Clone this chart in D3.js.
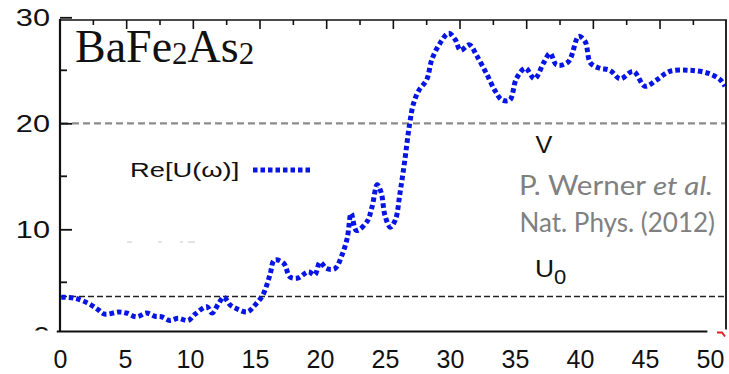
<!DOCTYPE html>
<html>
<head>
<meta charset="utf-8">
<script src="https://cdn.jsdelivr.net/npm/d3@7"></script>
<style>
  body { margin: 0; background: #fff; }
  svg { display: block; }
</style>
</head>
<body>
<svg class="chartSVG" width="729" height="374"></svg>
<script>
// Re[U(w)] (omega in eV, U in eV)
const omega = [0.1, 1.15, 2.2, 2.95, 3.45, 4.5, 5.1, 5.9, 6.65, 7.3, 7.8, 8.45, 9.1, 9.85, 10.4, 11.3, 11.7, 12.2, 12.6, 13.1, 13.7, 14.4, 15.0, 15.6, 16.15, 16.5, 17.2, 17.7, 18.3, 19.1, 19.6, 20.0, 20.5, 21.15, 21.7, 22.1, 22.4, 22.8, 23.6, 24.0, 24.4, 24.7, 25.0, 25.4, 25.8, 26.15, 26.5, 26.9, 27.2, 27.6, 28.2, 28.6, 29.2, 29.9, 30.4, 30.8, 31.5, 32.05, 32.8, 33.5, 34.0, 34.6, 35.1, 35.8, 36.5, 37.2, 37.7, 38.2, 39.1, 39.9, 40.4, 40.8, 41.5, 42.3, 43.1, 44.1, 45.0, 45.9, 46.9, 48.5, 49.9, 50.8, 51.15]
const reU = [3.6, 3.5, 3.0, 2.4, 2.0, 2.2, 2.1, 1.75, 2.1, 1.8, 1.75, 1.4, 1.6, 1.4, 2.0, 2.7, 2.1, 3.0, 3.6, 2.85, 2.45, 2.2, 2.85, 3.8, 5.7, 7.1, 6.8, 5.5, 5.4, 6.0, 5.7, 6.9, 6.3, 6.3, 7.6, 9.2, 11.5, 9.9, 10.7, 12.1, 14.2, 13.5, 11.3, 10.2, 10.9, 13.4, 16.3, 20.0, 21.9, 23.1, 24.1, 26.0, 27.5, 28.5, 27.9, 26.9, 27.4, 26.4, 24.7, 23.0, 22.2, 22.2, 24.2, 25.2, 24.2, 25.7, 26.6, 25.5, 25.8, 28.2, 27.7, 25.7, 25.2, 25.0, 24.2, 24.9, 23.5, 24.1, 24.9, 25.0, 24.7, 24.1, 23.5]

const xTicks = [0, 5, 10, 15, 20, 25, 30, 35, 40, 45, 50]
const yTicks = [0, 10, 20, 30]
const yMinorTicks = [5, 15, 25]
const refLines = [
  { name: "V", value: 20 },
  { name: "U0", value: 3.65 }
]
const material = ["Ba", "Fe", "2", "As", "2"]
const legendLabel = "Re[U(\u03c9)]"
const creditLines = ["P. Werner ", "Nat. Phys. (2012)"]

drawChart()

function drawChart() {
  const svg = d3.select(".chartSVG")
  const blue = "#0614e4"

  const x = d3.scaleLinear().domain([0, 50]).range([60, 710])
  const y = d3.scaleLinear().domain([0, 30]).range([335.3, 17.3])
  // the frame's own top ticks run on a 0..20 scale
  const xTop = d3.scaleLinear().domain([0, 20]).range([60, 726.7])

  const left = 60, right = 726, top = 20, bottom = 331.5

  // reference lines V and U0
  svg.append("g").selectAll("line")
    .data(refLines)
    .join("line")
    .attr("x1", left + 1)
    .attr("x2", right)
    .attr("y1", d => y(d.value))
    .attr("y2", d => y(d.value))
    .attr("stroke", d => d.name == "V" ? "#8c8c8c" : "#222")
    .attr("stroke-width", d => d.name == "V" ? 2.2 : 1.5)
    .attr("stroke-dasharray", d => d.name == "V" ? "7,4" : "6,3")

  // curve
  const line = d3.line()
    .x((d, i) => x(omega[i]))
    .y(d => y(d))
    .curve(d3.curveCatmullRom)

  svg.append("defs").append("clipPath").attr("id", "plotClip")
    .append("rect").attr("x", left).attr("y", top).attr("width", right - left).attr("height", bottom - top)

  svg.append("path")
    .datum(reU)
    .attr("clip-path", "url(#plotClip)")
    .attr("d", line)
    .attr("fill", "none")
    .attr("stroke", blue)
    .attr("stroke-width", 5)
    .attr("stroke-dasharray", "4.5,3")

  // frame
  const frame = svg.append("g").attr("stroke", "#111").attr("fill", "none")
  frame.append("line").attr("x1", left).attr("x2", left).attr("y1", top - 1).attr("y2", bottom).attr("stroke-width", 2.2)
  frame.append("line").attr("x1", left).attr("x2", right + 1).attr("y1", top).attr("y2", top).attr("stroke-width", 1.6)
  frame.append("line").attr("x1", right).attr("x2", right).attr("y1", top).attr("y2", bottom - 2).attr("stroke-width", 1.8)
  frame.append("line").attr("x1", x(-0.25)).attr("x2", x(49.8)).attr("y1", bottom).attr("y2", bottom).attr("stroke-width", 2.2)
  svg.append("path").attr("d", `M${right - 9},${bottom + 1}h5l3,4`).attr("stroke", "#e02020").attr("stroke-width", 2).attr("fill", "none")

  // top ticks
  svg.append("g").selectAll("line")
    .data(d3.range(1, 20))
    .join("line")
    .attr("x1", d => xTop(d))
    .attr("x2", d => xTop(d))
    .attr("y1", top)
    .attr("y2", d => d % 2 == 0 ? top + 9 : top + 5)
    .attr("stroke", "#111")
    .attr("stroke-width", 1.6)

  // y axis, ticks point inward; the 0 label is cut by the x axis
  const yClip = svg.append("defs").append("clipPath").attr("id", "yClip")
  yClip.append("rect").attr("x", -left).attr("y", 0).attr("width", 729).attr("height", bottom - 1)

  const yAxis = svg.append("g")
    .attr("transform", `translate(${left},0)`)
    .attr("clip-path", "url(#yClip)")
    .call(d3.axisLeft(y).tickValues(yTicks).tickSize(-12).tickPadding(0).tickFormat(d3.format("d")))
  yAxis.select(".domain").remove()
  yAxis.selectAll("line").attr("stroke", "#111").attr("stroke-width", 1.8)
  yAxis.selectAll("text")
    .attr("x", null)
    .attr("transform", "translate(-10,1) scale(1.28,1)")
    .attr("font-family", "Liberation Sans, Arial, sans-serif")
    .attr("font-size", 24)
    .attr("fill", "#111")

  svg.append("g").selectAll("line")
    .data(yMinorTicks)
    .join("line")
    .attr("x1", left)
    .attr("x2", left + 7)
    .attr("y1", d => y(d))
    .attr("y2", d => y(d))
    .attr("stroke", "#111")
    .attr("stroke-width", 1.8)

  // x axis labels
  const xAxis = svg.append("g")
    .attr("transform", `translate(0,${bottom})`)
    .call(d3.axisBottom(x).tickValues(xTicks).tickSize(0).tickPadding(19))
  xAxis.select(".domain").remove()
  xAxis.selectAll("text")
    .attr("font-family", "Liberation Sans, Arial, sans-serif")
    .attr("font-size", 25)
    .attr("fill", "#111")

  // material label
  const mat = svg.append("text")
    .attr("x", 75)
    .attr("y", 62)
    .attr("font-family", "Liberation Serif, Times New Roman, serif")
    .attr("font-size", 46)
    .attr("fill", "#111")
  mat.selectAll("tspan")
    .data(material)
    .join("tspan")
    .text(d => d)
    .attr("font-size", d => d == "2" ? 31 : 46)
    .attr("dy", (d, i) => d == "2" ? 2 : (i > 0 && material[i - 1] == "2" ? -2 : 0))

  // legend
  svg.append("text")
    .attr("transform", "translate(130,177) scale(1.4,1)")
    .attr("font-family", "Liberation Sans, Arial, sans-serif")
    .attr("font-size", 19.5)
    .attr("fill", "#111")
    .text(legendLabel)
  svg.append("line")
    .attr("x1", 253).attr("x2", 310)
    .attr("y1", 170).attr("y2", 170)
    .attr("stroke", blue)
    .attr("stroke-width", 5)
    .attr("stroke-dasharray", "4.5,3")

  // faint remnant marks under the legend
  svg.append("line")
    .attr("x1", 127).attr("x2", 196)
    .attr("y1", 242).attr("y2", 242)
    .attr("stroke", "#c8c8c8")
    .attr("stroke-width", 1.2)
    .attr("stroke-dasharray", "5,26,4,18,3,5,7")

  // V and U0 labels
  svg.append("text")
    .attr("transform", "translate(544,153) scale(1.05,1)")
    .attr("text-anchor", "middle")
    .attr("font-family", "Liberation Sans, Arial, sans-serif")
    .attr("font-size", 24)
    .attr("fill", "#111")
    .text("V")
  const u0 = svg.append("text")
    .attr("transform", "translate(535,277) scale(1.1,1)")
    .attr("font-family", "Liberation Sans, Arial, sans-serif")
    .attr("font-size", 24)
    .attr("fill", "#111")
  u0.append("tspan").text("U")
  u0.append("tspan").text("0").attr("font-size", 20).attr("dy", 7)

  // credit
  const credit = svg.append("g")
    .attr("font-family", "Lato, Open Sans, sans-serif")
    .attr("font-size", 26)
    .attr("fill", "#808080")
  const c1 = credit.append("text").attr("x", 519).attr("y", 195)
    .attr("textLength", 194).attr("lengthAdjust", "spacingAndGlyphs")
  c1.append("tspan").text(creditLines[0])
  c1.append("tspan").attr("font-style", "italic").text("et al.")
  credit.append("text").attr("x", 715).attr("y", 232).attr("text-anchor", "end").text(creditLines[1])
}
</script>
</body>
</html>
